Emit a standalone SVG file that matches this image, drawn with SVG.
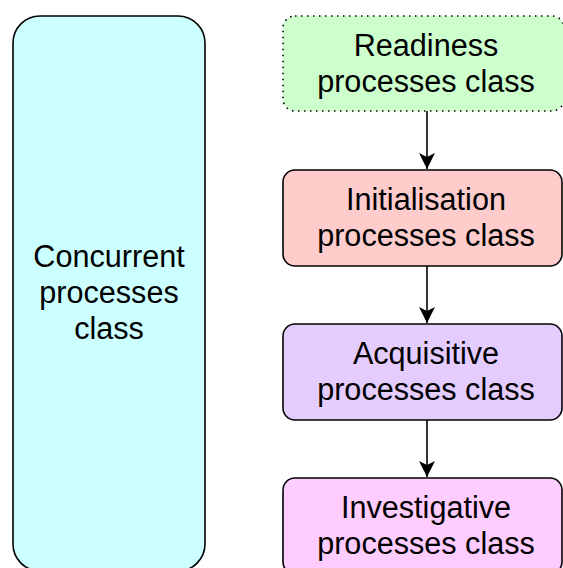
<svg xmlns="http://www.w3.org/2000/svg" width="563" height="568" viewBox="0 0 563 568">
  <style>
    .box { stroke: #000; stroke-width: 1.6; }
    .dotted { stroke-dasharray: 1.5 4.5; }
    .label { font-family: "Liberation Sans", Arial, sans-serif; font-size: 30.6px; fill: #000; text-anchor: middle; }
    .conn { stroke: #000; stroke-width: 1.6; fill: none; }
  </style>
  <defs>
    <marker id="arrow" viewBox="0 0 16 16" refX="16" refY="8" markerWidth="16" markerHeight="16" markerUnits="userSpaceOnUse" orient="auto">
      <path d="M0,0 L16,8 L0,16 L4,8 Z" fill="#000"/>
    </marker>
  </defs>
  <rect width="563" height="568" fill="#fff"/>

  <g id="concurrent">
    <rect class="box" x="13" y="16" width="192" height="555" rx="27" ry="27" fill="#ccffff"/>
    <text class="label" x="109" y="267">Concurrent</text>
    <text class="label" x="109" y="303">processes</text>
    <text class="label" x="109" y="339">class</text>
  </g>

  <g id="readiness">
    <rect class="box dotted" x="283" y="16" width="281" height="95" rx="12" ry="12" fill="#ccffcc"/>
    <text class="label" x="426" y="56">Readiness</text>
    <text class="label" x="426" y="92">processes class</text>
  </g>

  <g id="initialisation">
    <rect class="box" x="283" y="170" width="279" height="96" rx="12" ry="12" fill="#ffcccc"/>
    <text class="label" x="426" y="210">Initialisation</text>
    <text class="label" x="426" y="246">processes class</text>
  </g>

  <g id="acquisitive">
    <rect class="box" x="283" y="324" width="279" height="96" rx="12" ry="12" fill="#e5ccff"/>
    <text class="label" x="426" y="364">Acquisitive</text>
    <text class="label" x="426" y="400">processes class</text>
  </g>

  <g id="investigative">
    <rect class="box" x="283" y="478" width="279" height="96" rx="12" ry="12" fill="#ffccff"/>
    <text class="label" x="426" y="518">Investigative</text>
    <text class="label" x="426" y="554">processes class</text>
  </g>

  <g id="connectors">
    <line class="conn" x1="427" y1="111" x2="427" y2="169" marker-end="url(#arrow)"/>
    <line class="conn" x1="427" y1="266" x2="427" y2="323" marker-end="url(#arrow)"/>
    <line class="conn" x1="427" y1="420" x2="427" y2="477" marker-end="url(#arrow)"/>
  </g>
</svg>
